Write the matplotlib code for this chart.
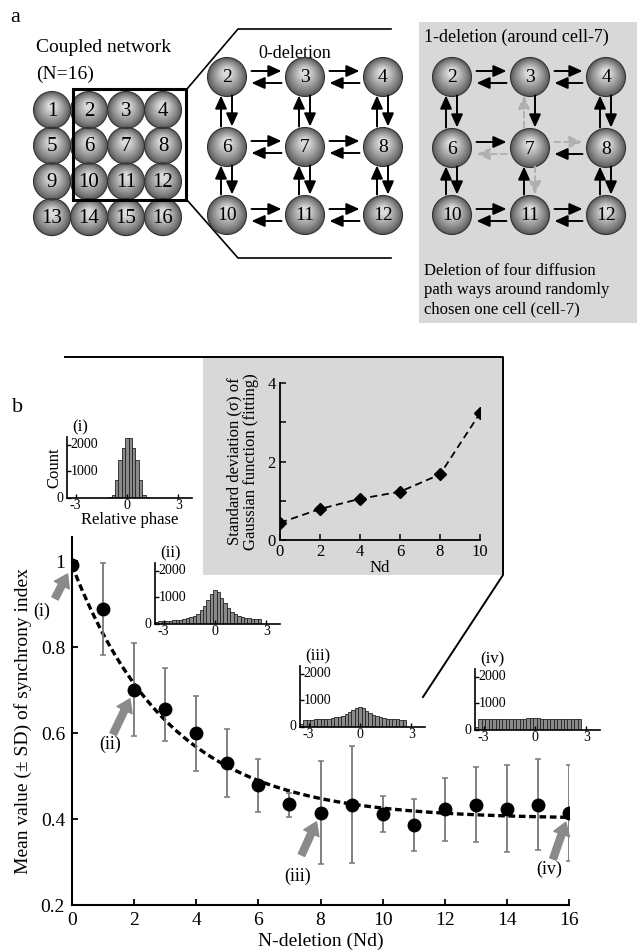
import numpy as np
import matplotlib
matplotlib.use('Agg')
import matplotlib.pyplot as plt
from matplotlib.patches import Circle, Rectangle

plt.rcParams['font.family'] = ['Liberation Serif', 'DejaVu Serif']
plt.rcParams['mathtext.fontset'] = 'stix'

W, H = 637, 950

# ---- panel b: synchrony index vs number of deletions ----
nd = list(range(17))
sync_mean = [0.99, 0.888, 0.70, 0.656, 0.60, 0.53, 0.479, 0.435, 0.414,
             0.433, 0.412, 0.386, 0.423, 0.433, 0.423, 0.433, 0.414]
sync_lo = [0.012, 0.107, 0.107, 0.075, 0.088, 0.079, 0.063, 0.030, 0.119,
           0.135, 0.042, 0.060, 0.074, 0.086, 0.100, 0.105, 0.112]
sync_hi = [0.012, 0.107, 0.109, 0.095, 0.086, 0.079, 0.061, 0.025, 0.121,
           0.137, 0.041, 0.061, 0.072, 0.088, 0.103, 0.107, 0.112]
# exponential fit  y = floor + amp*exp(-Nd/tau)
fit_amp, fit_tau, fit_floor = 0.59, 3.18, 0.40

# inset: sigma of gaussian fit
sigma_nd = [0, 2, 4, 6, 8, 10]
sigma_val = [0.44, 0.79, 1.05, 1.23, 1.67, 3.23]

# histograms of relative phase (bin width 0.2, first edge -3.5)
bin_edges = np.round(np.arange(-3.5, 2.75, 0.2), 2)
hist_i = [0, 0, 0, 0, 0, 0, 0, 0, 0, 0, 0, 0, 20, 126, 690, 1450, 1890, 2270,
          2270, 1890, 1450, 690, 126, 20, 0, 0, 0, 0, 0, 0, 0]
hist_ii = [60, 100, 110, 120, 130, 140, 150, 165, 185, 210, 250, 310, 390, 510,
           680, 900, 1150, 1300, 1220, 980, 780, 590, 460, 370, 310, 270, 240,
           215, 200, 190, 180]
hist_iii = [120, 260, 270, 280, 285, 290, 300, 310, 320, 340, 360, 390, 430,
            480, 550, 640, 720, 760, 700, 600, 520, 450, 400, 360, 330, 310,
            300, 290, 285, 280, 280]
hist_iv = [100, 420, 420, 420, 415, 420, 425, 420, 415, 420, 425, 430, 420,
           425, 430, 440, 450, 470, 440, 420, 430, 425, 420, 420, 415, 420,
           425, 420, 420, 420, 420]

# ---- panel a: network layout ----
grid_labels = [[1, 2, 3, 4], [5, 6, 7, 8], [9, 10, 11, 12], [13, 14, 15, 16]]
sub_labels = [[2, 3, 4], [6, 7, 8], [10, 11, 12]]
deleted = [(7, 3), (7, 6), (7, 8), (7, 11)]


fig = plt.figure(figsize=(W / 100, H / 100), dpi=100)
cv = fig.add_axes([0, 0, 1, 1], zorder=0)
cv.set_xlim(0, W)
cv.set_ylim(H, 0)
cv.axis('off')


def px_axes(l, t, r, b, z=2):
    a = fig.add_axes([l / W, 1 - b / H, (r - l) / W, (b - t) / H], zorder=z)
    a.patch.set_alpha(0)
    return a


def sphere(x, y, r, txt, fs=14, base=0.36):
    n = 14
    for i in range(n):
        t = i / (n - 1)
        g = base + (0.86 - base) * t ** 0.9
        cv.add_patch(Circle((x, y - 0.22 * r * t), r * (1 - 0.78 * t),
                            fc=(g, g, g), ec='none', zorder=3))
    cv.add_patch(Circle((x, y), r, fc='none', ec='#333333', lw=0.8, zorder=4))
    cv.text(x, y + 1, str(txt), ha='center', va='center', fontsize=fs, zorder=5)


def arrow(p0, p1, col='k', ls='-'):
    cv.annotate('', xy=p1, xytext=p0,
                arrowprops=dict(arrowstyle='-|>,head_length=0.6,head_width=0.27',
                                color=col, lw=1.4, ls=ls, shrinkA=0, shrinkB=0,
                                mutation_scale=13), zorder=6)


# panel a labels
cv.text(10, 17, 'a', fontsize=16, va='center')
cv.text(36, 48, 'Coupled network', fontsize=14, va='center')
cv.text(36, 74, '(N=16)', fontsize=14, va='center')

gx0, gy0, gdx, gdy = 52, 110, 37, 35.7
for i, row in enumerate(grid_labels):
    for j, lab in enumerate(row):
        sphere(gx0 + j * gdx, gy0 + i * gdy, 18.5, lab, fs=15)
cv.add_patch(Rectangle((73, 89), 113, 111, fc='none', ec='k', lw=2.2, zorder=7))

# zoom lines
cv.plot([187, 238, 391], [89, 29, 29], color='k', lw=1.2)
cv.plot([187, 238, 391], [200, 258, 258], color='k', lw=1.2)

cv.add_patch(Rectangle((419, 22), 218, 301, fc='#d8d8d8', ec='none', zorder=1))
cv.text(258, 53, '0-deletion', fontsize=13, va='center')
cv.text(424, 37, '1-deletion (around cell-7)', fontsize=13, va='center')
cv.text(424, 290, 'Deletion of four diffusion\npath ways around randomly\nchosen one cell (cell-7)',
        fontsize=12, va='center', linespacing=1.25)


def network(cols, rows, r=19.5, show_del=False):
    pos = {}
    for i, row in enumerate(sub_labels):
        for j, lab in enumerate(row):
            pos[lab] = (cols[j], rows[i])
            sphere(cols[j], rows[i], r, lab, fs=14)

    def style(a, b):
        if show_del and (a, b) in deleted:
            return '#b0b0b0', (0, (3, 2))
        return 'k', '-'
    for i, row in enumerate(sub_labels):
        for j in range(2):
            a, b = row[j], row[j + 1]
            x0, x1, y = pos[a][0] + r + 5, pos[b][0] - r - 4, pos[a][1]
            c, s = style(a, b)
            arrow((x0, y - 6), (x1, y - 6), c, s)
            c, s = style(b, a)
            arrow((x1, y + 6), (x0, y + 6), c, s)
    for j in range(3):
        for i in range(2):
            a, b = sub_labels[i][j], sub_labels[i + 1][j]
            x, y0, y1 = pos[a][0], pos[a][1] + r - 1, pos[b][1] - r - 1
            c, s = style(b, a)
            arrow((x - 6, y1), (x - 6, y0), c, s)
            c, s = style(a, b)
            arrow((x + 5, y0), (x + 5, y1), c, s)


network([227, 305, 383], [77, 147, 215])
network([452, 530, 606], [77, 148, 215], show_del=True)

# panel b frame and inset box
cv.text(12, 407, 'b', fontsize=16, va='center')
cv.add_patch(Rectangle((203, 357), 300, 218, fc='#d8d8d8', ec='none', zorder=1))
cv.plot([65, 503, 503, 423], [357, 357, 575, 697], color='k', lw=1.4, zorder=2)

# main axes
ax = px_axes(72, 537, 569, 905, z=1)
xx = np.linspace(0, 16, 200)
ax.plot(xx, fit_floor + fit_amp * np.exp(-xx / fit_tau), color='k', lw=2.4,
        ls=(0, (2, 1.1)), zorder=3)
ax.errorbar(nd, sync_mean, yerr=[sync_lo, sync_hi], fmt='o', color='k', ms=9,
            ecolor='#777777', elinewidth=1.3, capsize=2.5, capthick=1.1, zorder=4)
ax.set_xlim(0, 16)
ax.set_ylim(0.2, 1.056)
ax.set_xticks(range(0, 17, 2))
ax.set_yticks([0.2, 0.4, 0.6, 0.8, 1.0])
ax.set_yticklabels(['0.2', '0.4', '0.6', '0.8', '1'])
for s in ['top', 'right']:
    ax.spines[s].set_visible(False)
for s in ['left', 'bottom']:
    ax.spines[s].set_linewidth(1.5)
ax.tick_params(direction='in', length=4, width=1.3, labelsize=14, pad=5)
ax.set_xlabel('N-deletion (Nd)', fontsize=14, labelpad=3)
ax.set_ylabel('Mean value (± SD) of synchrony index', fontsize=14, labelpad=6)

# arrows pointing at the four histogram conditions
marks = [(0, '(i)', (-17, -33), (-30, -46)),
         (2, '(ii)', (-21, -44), (-24, -54)),
         (8, '(iii)', (-19, -42), (-23, -63)),
         (16, '(iv)', (-16, -46), (-20, -56))]
for k, lab, tail, lpos in marks:
    ax.annotate('', xy=(nd[k], sync_mean[k]), xytext=tail, textcoords='offset pixels',
                arrowprops=dict(arrowstyle='simple,head_length=0.75,head_width=1.0,tail_width=0.42',
                                color='#8a8a8a', shrinkA=0, shrinkB=7, mutation_scale=12),
                zorder=5)
    ax.annotate(lab, xy=(nd[k], sync_mean[k]), xytext=lpos, textcoords='offset pixels',
                fontsize=13, ha='center', va='center')

# sigma inset
ax2 = px_axes(280, 383, 480, 540)
ax2.plot(sigma_nd, sigma_val, color='k', lw=1.3, ls=(0, (4, 2.5)), marker='D', ms=6)
ax2.set_xlim(0, 10)
ax2.set_ylim(0, 4)
ax2.set_xticks(range(0, 11, 2))
ax2.set_yticks(range(5))
ax2.set_yticklabels(['0', '', '2', '', '4'])
for s in ['top', 'right']:
    ax2.spines[s].set_visible(False)
for s in ['left', 'bottom']:
    ax2.spines[s].set_linewidth(1.3)
ax2.tick_params(direction='in', length=4, width=1.1, labelsize=12, pad=3)
ax2.set_xlabel('Nd', fontsize=12, labelpad=0)
ax2.set_ylabel('Standard deviation (σ) of\nGaussian function (fitting)', fontsize=12,
               labelpad=6, linespacing=1.1)

# histogram insets
hists = [(hist_i, '(i)', 67, 498), (hist_ii, '(ii)', 155, 624),
         (hist_iii, '(iii)', 300, 727), (hist_iv, '(iv)', 475, 730)]
for k, (cnt, lab, l, b) in enumerate(hists):
    h = px_axes(l, b - 61, l + 125, b)
    h.bar(bin_edges[:-1], cnt, width=0.2, align='edge', color='#8a8a8a',
          edgecolor='#222222', linewidth=0.6)
    h.set_xlim(-3.5, 3.8)
    h.set_ylim(0, 2300)
    h.set_xticks([-3, 0, 3])
    h.set_xticklabels(['-3', '0', '3'])
    h.set_yticks([0, 1000, 2000])
    h.set_yticklabels([])
    for s in ['top', 'right']:
        h.spines[s].set_visible(False)
    for s in ['left', 'bottom']:
        h.spines[s].set_linewidth(1.2)
    h.tick_params(direction='in', length=3, width=1, labelsize=10, pad=1)
    yt = h.get_yaxis_transform()
    h.text(-0.03, 0, '0', transform=yt, ha='right', va='center', fontsize=10)
    h.text(0.03, 1000, '1000', transform=yt, ha='left', va='center', fontsize=10)
    h.text(0.03, 2000, '2000', transform=yt, ha='left', va='center', fontsize=10)
    h.text(0.04, 1.02, lab, transform=h.transAxes, ha='left', va='bottom', fontsize=12)
    if k == 0:
        h.set_ylabel('Count', fontsize=12, labelpad=2)
        h.set_xlabel('Relative phase', fontsize=12, labelpad=0)

fig.savefig('out.png', dpi=100)
